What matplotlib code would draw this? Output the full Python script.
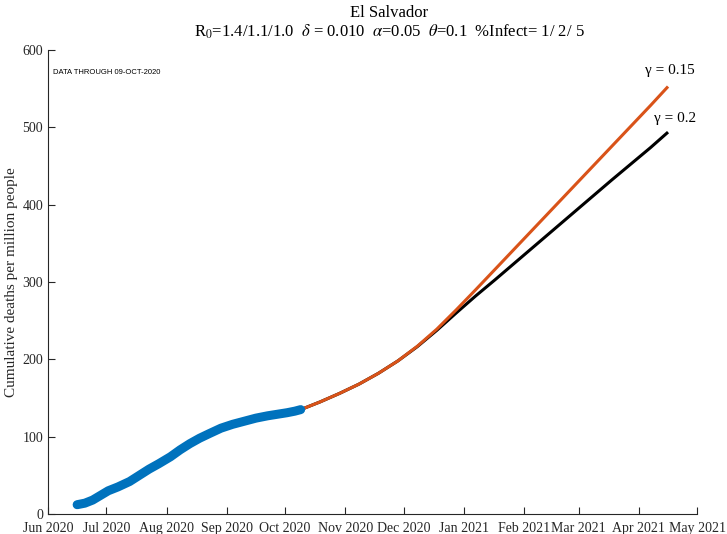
import matplotlib
matplotlib.use("Agg")
import matplotlib.pyplot as plt
import matplotlib.dates as mdates
import numpy as np
import pandas as pd

# observed cumulative deaths per million
obs_dates = ["2020-06-16", "2020-06-20", "2020-06-24", "2020-06-28", "2020-07-02",
             "2020-07-07", "2020-07-13", "2020-07-18", "2020-07-23", "2020-07-28",
             "2020-08-03", "2020-08-08", "2020-08-13", "2020-08-18", "2020-08-23",
             "2020-08-29", "2020-09-04", "2020-09-10", "2020-09-16", "2020-09-22",
             "2020-09-27", "2020-10-02", "2020-10-06", "2020-10-09"]
obs_vals = [12, 14, 18, 24, 30, 35, 42, 50, 58, 65, 74, 83, 91, 98, 104,
            111, 116, 120, 124, 127, 129, 131, 133, 135]

# projections (gamma = 0.15 and gamma = 0.2)
proj_dates = ["2020-10-09", "2020-10-19", "2020-10-29", "2020-11-08", "2020-11-18",
              "2020-11-28", "2020-12-08", "2020-12-18", "2020-12-28", "2021-01-07",
              "2021-01-17", "2021-01-27", "2021-02-06", "2021-02-16", "2021-02-26",
              "2021-03-08", "2021-03-18", "2021-03-28", "2021-04-07", "2021-04-16"]
gamma015 = [135, 145, 156, 168, 182, 198, 217, 239, 264, 290,
            316.5, 343, 369.5, 396, 422.5, 449, 475.5, 502, 528.5, 553]
gamma02 = [135, 145, 156, 168, 182, 198, 216.5, 237.5, 260, 282,
           303, 324.5, 346, 367.5, 389, 410.5, 432, 453, 474, 494]

month_ticks = pd.date_range("2020-06-01", "2021-05-01", freq="MS")

plt.rcParams['font.family'] = ['Liberation Serif', 'DejaVu Serif']
plt.rcParams['mathtext.fontset'] = 'stix'

fig = plt.figure(figsize=(7.27, 5.34), dpi=100)
ax = fig.add_axes([0.066, 0.0375, 0.893, 0.8685])

pd_ = pd.to_datetime(proj_dates)
ax.plot(pd_, gamma02, color='black', lw=2.2, solid_capstyle='butt')
ax.plot(pd_, gamma015, color='#D95319', lw=2.2, solid_capstyle='butt')
ax.plot(pd.to_datetime(obs_dates), obs_vals, color='#0072BD', lw=6.5,
        solid_capstyle='round', solid_joinstyle='round')

ax.set_xlim(pd.Timestamp("2020-06-01"), pd.Timestamp("2021-05-01"))
ax.set_ylim(0, 600)
ax.set_xticks(month_ticks)
ax.xaxis.set_major_formatter(mdates.DateFormatter("%b %Y"))
ax.set_yticks(np.arange(0, 601, 100))
ax.tick_params(direction='in', length=5, labelsize=10, colors='#262626')
ax.tick_params(axis='x', pad=6)
for s in ['top', 'right']:
    ax.spines[s].set_visible(False)
for s in ['left', 'bottom']:
    ax.spines[s].set_color('#262626')
    ax.spines[s].set_linewidth(0.8)

ax.set_ylabel("Cumulative deaths per million people", fontsize=11, color='#262626',
              labelpad=3)

ax.text(0.007, 0.952, "DATA THROUGH 09-OCT-2020", transform=ax.transAxes,
        fontsize=5.5, family=['Liberation Sans', 'DejaVu Sans'], va='center')

ax.text(pd.Timestamp("2021-04-04"), 574, "γ = 0.15", fontsize=11, ha='left', va='center')
ax.text(pd.Timestamp("2021-04-09"), 512, "γ = 0.2", fontsize=11, ha='left', va='center')

fig.text(0.535, 0.975, "El Salvador", ha='center', va='center', fontsize=12)
fig.text(0.535, 0.94,
         r"R$_0$=1.4/1.1/1.0  $\delta$ = 0.010  $\alpha$=0.05  $\theta$=0.1  %Infect= 1/ 2/ 5",
         ha='center', va='center', fontsize=12)

fig.savefig("out.png", dpi=100)
